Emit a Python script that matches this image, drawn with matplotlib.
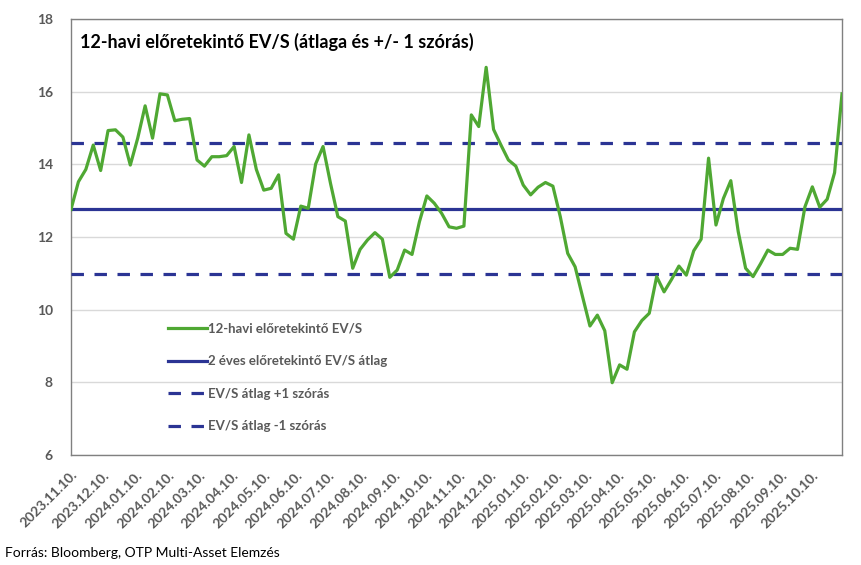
import matplotlib
matplotlib.use("Agg")
import matplotlib.pyplot as plt
import matplotlib.dates as mdates
import numpy as np
import pandas as pd

plt.rcParams['font.family'] = ['Lato', 'DejaVu Sans']

start_date = "2023-11-10"
n_weeks = 105
ev_s = [12.76, 13.52, 13.86, 14.53, 13.83, 14.93, 14.95, 14.75, 13.98, 14.72,
        15.61, 14.72, 15.94, 15.91, 15.20, 15.24, 15.26, 14.12, 13.95, 14.21,
        14.21, 14.24, 14.49, 13.50, 14.81, 13.86, 13.29, 13.34, 13.71, 12.10,
        11.94, 12.85, 12.79, 14.01, 14.49, 13.48, 12.56, 12.44, 11.14, 11.66,
        11.92, 12.12, 11.94, 10.89, 11.09, 11.64, 11.52, 12.42, 13.13, 12.93,
        12.65, 12.28, 12.24, 12.30, 15.36, 15.04, 16.67, 14.96, 14.53, 14.12,
        13.95, 13.43, 13.16, 13.37, 13.50, 13.40, 12.56, 11.55, 11.18, 10.36,
        9.55, 9.85, 9.42, 7.99, 8.48, 8.36, 9.39, 9.70, 9.90, 10.91,
        10.49, 10.83, 11.20, 10.95, 11.62, 11.94, 14.17, 12.33, 13.06, 13.55,
        12.15, 11.14, 10.91, 11.26, 11.64, 11.52, 11.52, 11.69, 11.66, 12.83,
        13.38, 12.82, 13.04, 13.77, 15.94]
mean_val = 12.77
upper_val = 14.59
lower_val = 10.98

labels = ["12-havi előretekintő EV/S", "2 éves előretekintő EV/S átlag",
          "EV/S átlag +1 szórás", "EV/S átlag -1 szórás"]
title = "12-havi előretekintő EV/S (átlaga és +/- 1 szórás)"
source = "Forrás: Bloomberg, OTP Multi-Asset Elemzés"

dates = pd.date_range(start_date, periods=n_weeks, freq="7D")
tick_dates = pd.date_range("2023-11-01", "2025-10-01", freq="MS") + pd.Timedelta(days=9)

green = "#4FA833"
navy = "#2B3494"
gray_txt = "#595959"

fig = plt.figure(figsize=(8.61, 5.65), dpi=100)
ax = fig.add_axes([71/861, 1-455/565, (842-71)/861, (455-19)/565])

lw = 2.3
ax.plot(dates, ev_s, color=green, lw=lw, label=labels[0], zorder=4)
ax.plot([dates[0], dates[-1]], [mean_val]*2, color=navy, lw=lw, label=labels[1], zorder=3)
ax.plot([dates[0], dates[-1]], [upper_val]*2, color=navy, lw=lw, ls=(0, (3.9, 3.3)), label=labels[2], zorder=3)
ax.plot([dates[0], dates[-1]], [lower_val]*2, color=navy, lw=lw, ls=(0, (3.9, 3.3)), label=labels[3], zorder=3)

ax.set_xlim(dates[0], dates[-1])
ax.set_ylim(6, 18)
ax.set_yticks(np.arange(6, 19, 2))
ax.set_xticks(tick_dates)
ax.xaxis.set_major_formatter(mdates.DateFormatter("%Y.%m.%d."))
ax.grid(axis='y', color="#D9D9D9", lw=1)
ax.set_axisbelow(True)
for s in ax.spines.values():
    s.set_color("#808080")
    s.set_linewidth(1)
ax.tick_params(axis='both', length=0, colors=gray_txt)
ax.tick_params(axis='y', pad=13, labelsize=10)
ax.tick_params(axis='x', pad=10, labelsize=10)
for t in ax.get_yticklabels():
    t.set_fontweight('bold')
for t in ax.get_xticklabels():
    t.set_fontweight('bold')
    t.set_rotation(45)
    t.set_ha('right')
    t.set_rotation_mode('anchor')

ax.text(0.012, 0.947, title, transform=ax.transAxes, fontsize=13, fontweight='bold',
        color='black', va='center', ha='left')

leg = ax.legend(loc='upper left', bbox_to_anchor=(0.11, 0.33), frameon=False,
                handlelength=3.0, labelspacing=1.55, handletextpad=0.05,
                prop={'size': 9.5, 'weight': 'bold'})
for t in leg.get_texts():
    t.set_color(gray_txt)

fig.text(5/861, 1-553/565, source, fontsize=10, color='black', va='center', ha='left')

fig.savefig("out.png", dpi=100)
